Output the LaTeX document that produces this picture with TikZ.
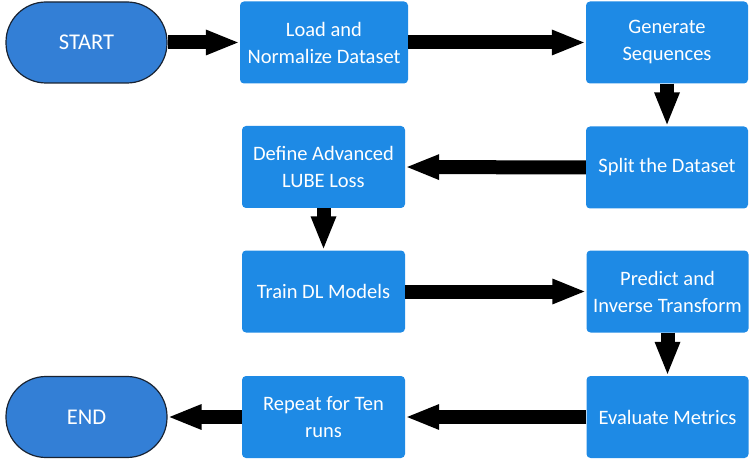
\documentclass[tikz,border=0pt]{standalone}
\usepackage{fontspec}
\setmainfont{Carlito}
\usetikzlibrary{arrows.meta}
\definecolor{boxblue}{RGB}{30,138,229}
\definecolor{termblue}{RGB}{51,127,214}
\definecolor{termline}{RGB}{25,35,50}
\begin{document}
\begin{tikzpicture}[x=1pt,y=-1pt,
  stepbox/.style={fill=boxblue, rounded corners=4pt, minimum width=163pt, minimum height=82pt,
    inner sep=0pt, text=white, align=center, font=\fontsize{20.5}{27}\selectfont},
  term/.style={draw=termline, line width=1.2pt, fill=termblue, rounded corners=40pt,
    minimum width=161pt, minimum height=81pt, inner sep=0pt, text=white,
    font=\fontsize{22.5}{26}\selectfont},
  flow/.style={line width=14pt, -{Triangle[width=23pt,length=34pt]}}
]
\useasboundingbox (0,0) rectangle (754,462);
\node[term] (start) at (86.5,42.5) {START};
\node[stepbox, minimum width=168pt] (load) at (324,42.5) {Load and\\Normalize Dataset};
\node[stepbox, minimum width=162pt] (gen) at (667,42.5) {Generate\\Sequences};
\node[stepbox, minimum width=162pt] (split) at (667,167.5) {Split the Dataset};
\node[stepbox] (define) at (323.5,167) {Define Advanced\\LUBE Loss};
\node[stepbox] (train) at (323.5,291.5) {Train DL Models};
\node[stepbox, minimum width=162pt] (predict) at (667.5,291.5) {Predict and\\Inverse Transform};
\node[stepbox, minimum width=162pt] (eval) at (667.5,417) {Evaluate Metrics};
\node[stepbox] (repeat) at (323.5,417) {Repeat for Ten\\runs};
\node[term] (end) at (86.5,417) {END};
\draw[flow] (start.east) -- (load.west);
\draw[flow] (load.east) -- (gen.west);
\draw[flow] (gen.south) -- (split.north);
\draw[flow] (split.west) -- (define.east);
\draw[flow] (define.south) -- (train.north);
\draw[flow] (train.east) -- (predict.west);
\draw[flow] (predict.south) -- (eval.north);
\draw[flow] (eval.west) -- (repeat.east);
\draw[flow] (repeat.west) -- (end.east);
\end{tikzpicture}
\end{document}
